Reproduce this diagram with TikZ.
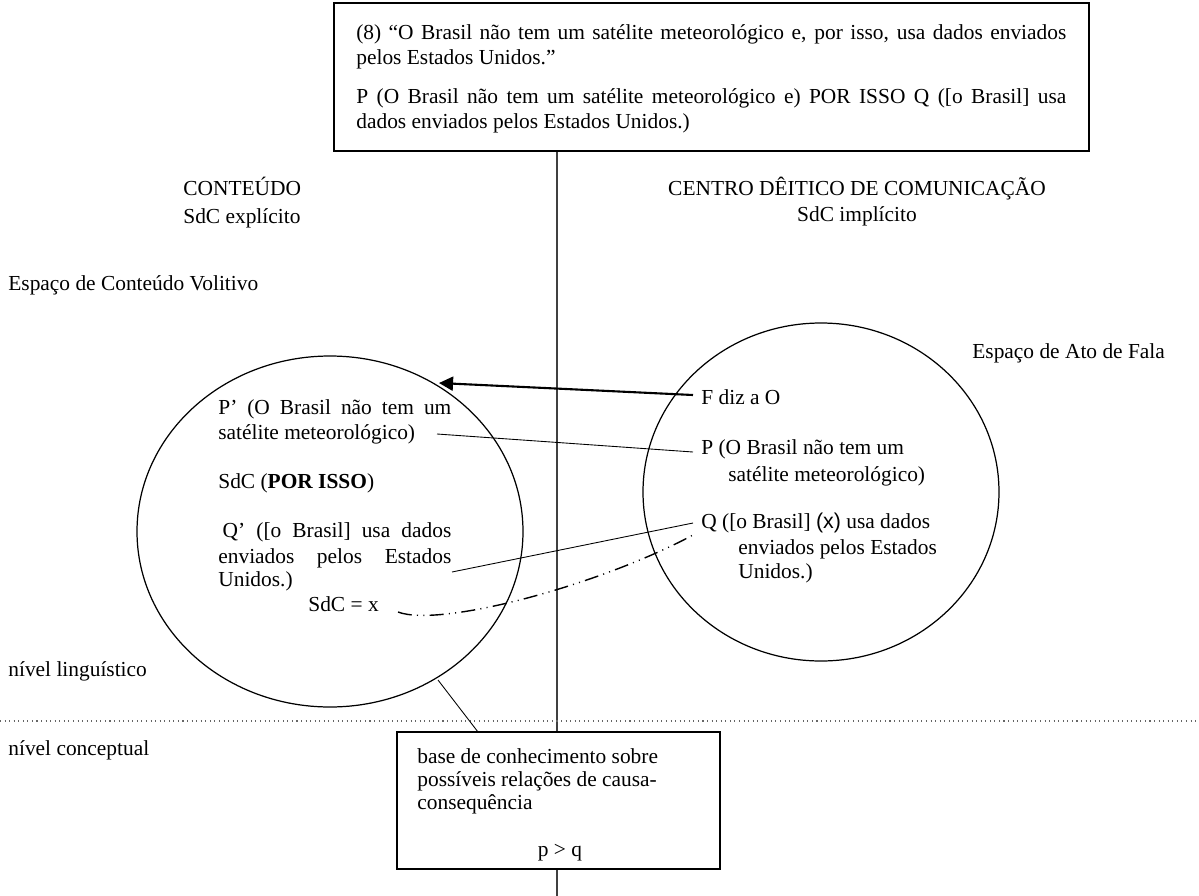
\documentclass[tikz,border=0pt]{standalone}
\usepackage{fontspec}
\setmainfont{Liberation Serif}
\newfontfamily\sansx{Liberation Sans}
\usetikzlibrary{arrows.meta}
\newlength\px
\setlength\px{0.57pt}
% one justified line of a given width (in px units)
\newcommand\jline[2]{\makebox[#1\px][s]{#2}}
\begin{document}
\begin{tikzpicture}[x=0.57pt,y=-0.57pt,
  txt/.style={anchor=base west,inner sep=0pt,font=\fontsize{12.2}{14}\selectfont},
  ctxt/.style={anchor=base,inner sep=0pt,font=\fontsize{12.2}{14}\selectfont},
  frame/.style={draw,line width=0.8pt},
  bubble/.style={draw,line width=0.7pt},
  thin/.style={line width=0.5pt},
  dashdotdot/.style={line width=0.8pt,dash pattern=on 8pt off 3pt on 0.6pt off 3pt on 0.6pt off 3pt}]
\useasboundingbox (0,0) rectangle (1199,896);

% central divider and level separator
\coordinate (divTop) at (557,151);
\coordinate (divBot) at (557,896);
\draw[line width=0.8pt,black!75] (divTop) -- (divBot);
\coordinate (lvlL) at (0,721);
\coordinate (lvlR) at (1199,721);
\draw[dotted,line width=0.6pt,black!60] (lvlL) -- (lvlR);

% example box
\draw[frame,fill=white] (334,3) rectangle (1089,151);
\node[txt] (ex1) at (356,39) {\jline{710}{(8) “O Brasil não tem um satélite meteorológico e, por isso, usa dados enviados}};
\node[txt] (ex2) at (356,64) {pelos Estados Unidos.”};
\node[txt] (ex3) at (356,103) {\jline{710}{P (O Brasil não tem um satélite meteorológico e) POR ISSO Q ([o Brasil] usa}};
\node[txt] (ex4) at (356,128) {dados enviados pelos Estados Unidos.)};

% column headings
\node[txt] (hL1) at (183,195) {CONTEÚDO};
\node[txt] (hL2) at (183,223) {SdC explícito};
\node[ctxt] (hR1) at (857,195) {CENTRO DÊITICO DE COMUNICAÇÃO};
\node[ctxt] (hR2) at (857,221) {SdC implícito};

% space labels
\node[txt] (spL) at (8,290) {Espaço de Conteúdo Volitivo};
\node[txt] (spR) at (972,358) {Espaço de Ato de Fala};
\node[txt] (nl) at (8,676) {nível linguístico};
\node[txt] (nc) at (8,755) {nível conceptual};

% mental spaces
\draw[bubble] (330,531.5) ellipse [x radius=193, y radius=175.5];
\draw[bubble] (821,492) ellipse [x radius=178, y radius=169];

% content space text
\node[txt] (lp1) at (218,414) {\jline{233}{P’ (O Brasil não tem um}};
\node[txt] (lp2) at (218,439) {satélite meteorológico)};
\node[txt] (lsdc) at (218,488) {SdC (\textbf{POR ISSO})};
\node[txt] (lq1) at (218,537) {\jline{233}{\hspace{2.5pt}Q’ ([o Brasil] usa dados}};
\node[txt] (lq2) at (218,563) {\jline{233}{enviados pelos Estados}};
\node[txt] (lq3) at (218,586) {Unidos.)};
\node[txt] (lx) at (308,611) {SdC = x};

% speech act space text
\node[txt] (rf) at (701,404) {F diz a O};
\node[txt] (rp1) at (701,454) {P (O Brasil não tem um};
\node[txt] (rp2) at (728,481) {satélite meteorológico)};
\node[txt] (rq1) at (701,528) {Q ([o Brasil] {\sansx(x)} usa dados};
\node[txt] (rq2) at (738,554) {enviados pelos Estados};
\node[txt] (rq3) at (738,578) {Unidos.)};

% knowledge base box
\draw[frame,fill=white] (397,732) rectangle (720,869);
\node[txt] (kb1) at (417,763) {base de conhecimento sobre};
\node[txt] (kb2) at (417,786) {possíveis relações de causa-};
\node[txt] (kb3) at (417,809) {consequência};
\node[ctxt] (kb4) at (560,856) {p > q};

% connectors
\coordinate (fStart) at (693,395);
\coordinate (fTip) at (439,383);
\draw[line width=1.2pt,-{Triangle[length=8pt,width=8pt]}] (fStart) -- (fTip);

\coordinate (pL) at (437,434);
\coordinate (pR) at (693,452);
\draw[thin] (pL) -- (pR);

\coordinate (qL) at (452,572);
\coordinate (qR) at (693,523);
\draw[thin] (qL) -- (qR);

\coordinate (xL) at (398,612);
\coordinate (xR) at (693,535);
\draw[dashdotdot] (xL) .. controls (440,628) and (600,585) .. (xR);

\coordinate (kbL) at (438,680);
\coordinate (kbB) at (478,732);
\draw[thin] (kbL) -- (kbB);
\end{tikzpicture}
\end{document}
